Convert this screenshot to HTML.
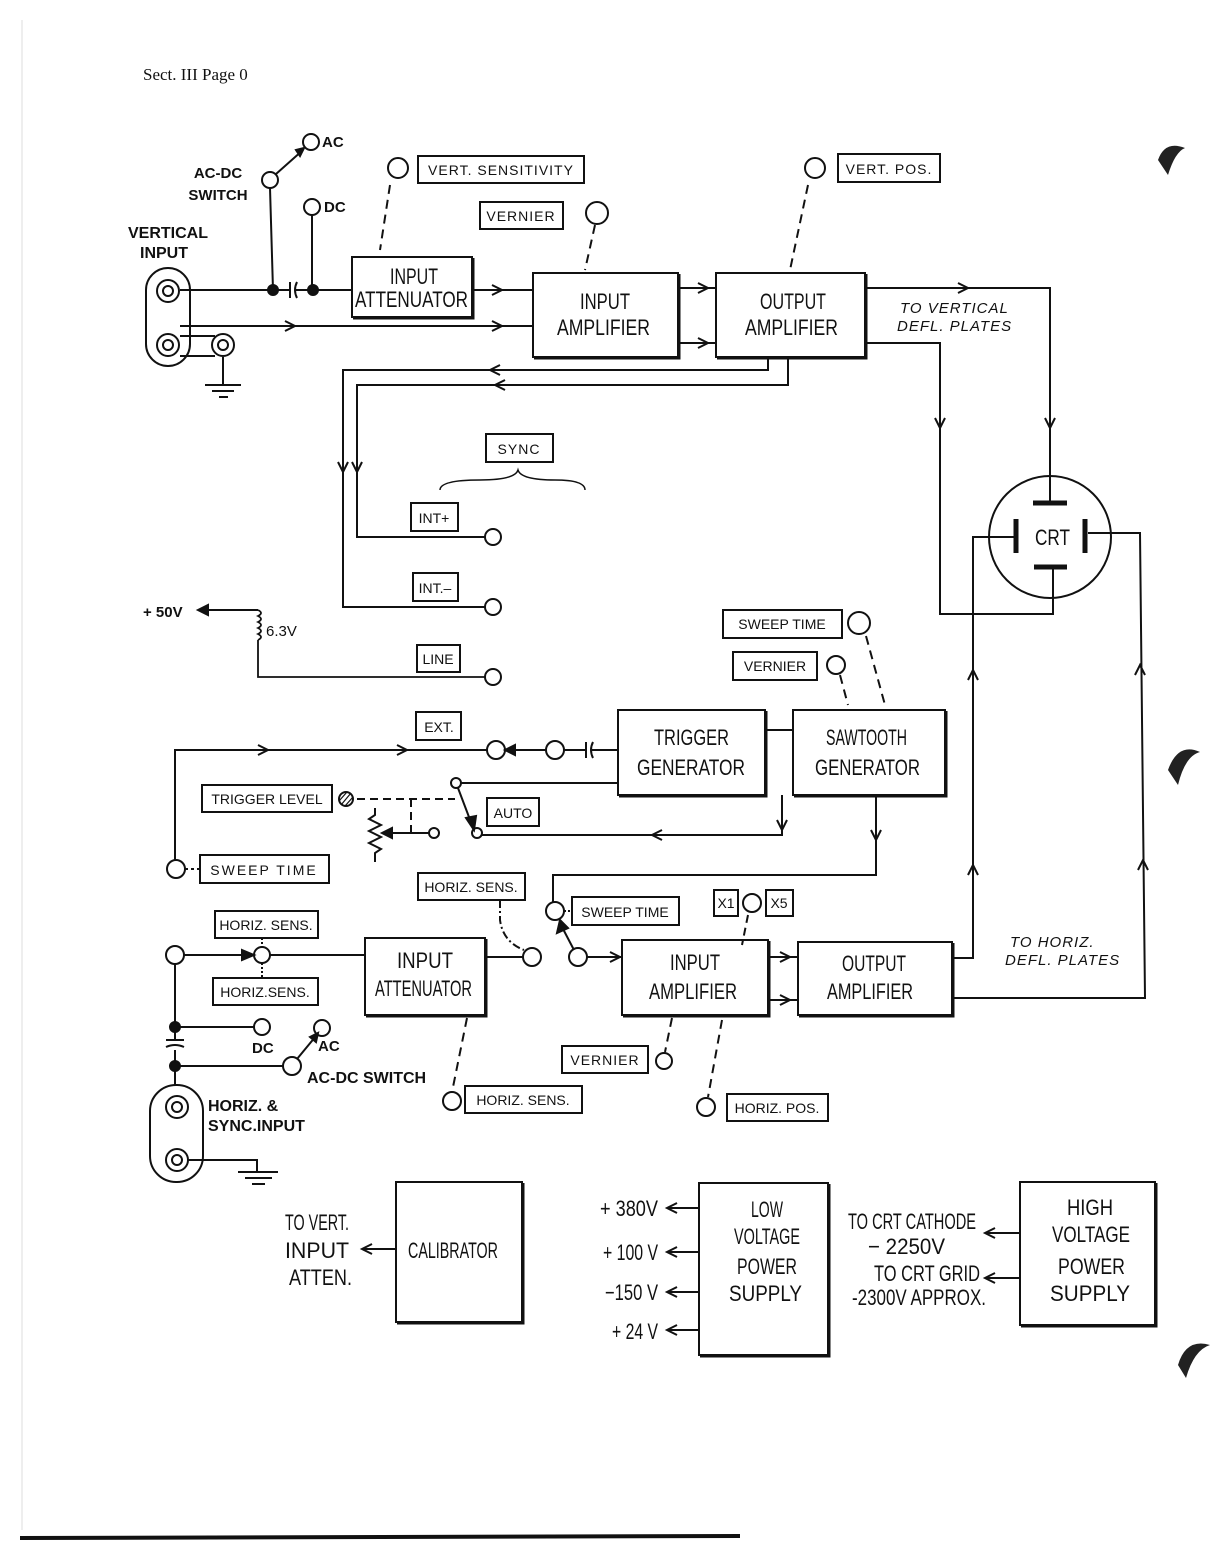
<!DOCTYPE html>
<html><head><meta charset="utf-8"><style>
html,body{margin:0;padding:0;background:#fff}
svg{display:block}
text{font-family:"Liberation Sans",sans-serif;fill:#111}
.b{font-size:22px}
.l{font-size:15px;font-weight:bold}
.s{font-size:14px;letter-spacing:1px}
.i{font-size:15px;font-style:italic;letter-spacing:1px}
</style></head><body>
<svg width="1212" height="1545" viewBox="0 0 1212 1545" xmlns="http://www.w3.org/2000/svg">
<g stroke="#111" stroke-width="2" fill="none">
<line x1="22" y1="20" x2="22" y2="1530" stroke="#ddd" stroke-width="1"/>
<path d="M20 1538 L740 1536" stroke-width="4"/>
<rect x="146" y="268" width="44" height="98" rx="22"/>
<circle cx="168" cy="291" r="11"/><circle cx="168" cy="291" r="5"/>
<circle cx="168" cy="345" r="11"/><circle cx="168" cy="345" r="5"/>
<circle cx="223" cy="345" r="11"/><circle cx="223" cy="345" r="5"/>
<path d="M180 336 H215 M180 356 H215"/>
<path d="M223 357 V385 M205 385 H241 M212 391 H234 M219 397 H228"/>
<circle cx="270" cy="180" r="8"/><circle cx="311" cy="142" r="8"/><circle cx="312" cy="207" r="8"/>
<path d="M276 174 L303 150"/><path d="M296 150 L304 148 L300 156 Z" fill="#111"/>
<path d="M270 188 L273 290 M312 215 V290"/>
<path d="M180 290 H290 M296 290 H352"/>
<path d="M290 282 V298 M297 282 Q293 290 297 298"/>
<circle cx="273" cy="290" r="5" fill="#111"/><circle cx="313" cy="290" r="5" fill="#111"/>
<path d="M180 326 H533"/>
<path d="M285 321 L295 326 L285 331 M492 321 L502 326 L492 331"/>
<rect x="352" y="257" width="120" height="60"/><path d="M473 258 V318 H353" stroke-width="3"/>
<path d="M472 290 H533 M492 285 L502 290 L492 295"/>
<circle cx="398" cy="168" r="10"/><rect x="418" y="156" width="166" height="27"/>
<path d="M390 185 L380 250" stroke-dasharray="9,6"/>
<rect x="480" y="202" width="83" height="27"/><circle cx="597" cy="213" r="11"/>
<path d="M595 225 L585 270" stroke-dasharray="9,6"/>
<rect x="533" y="273" width="145" height="84"/><path d="M679 274 V358 H534" stroke-width="3"/>
<path d="M678 288 H716 M678 343 H716 M698 283 L708 288 L698 293 M698 338 L708 343 L698 348"/>
<rect x="716" y="273" width="149" height="84"/><path d="M866 274 V358 H717" stroke-width="3"/>
<circle cx="815" cy="168" r="10"/><rect x="838" y="154" width="102" height="28"/>
<path d="M808 185 L790 270" stroke-dasharray="9,6"/>
<path d="M865 288 H1050 V503 M958 283 L968 288 L958 293 M1045 418 L1050 428 L1055 418"/>
<path d="M865 343 H940 V614 H1053 V568 M935 418 L940 428 L945 418"/>
<circle cx="1050" cy="537" r="61"/>
<path d="M1033 503 H1067 M1034 567 H1067 M1016 519 V553 M1085 519 V553" stroke-width="5"/>
<path d="M1014 537 H973 V958 H952 M968 680 L973 670 L978 680 M968 875 L973 865 L978 875"/>
<path d="M1088 533 H1140 L1145 998 H952 M1135 675 L1140 665 L1145 675 M1138 870 L1143 860 L1148 870"/>
<path d="M768 357 V370 H343 V607 H485 M788 357 V385 H357 V537 H485"/>
<path d="M500 365 L490 370 L500 375 M505 380 L495 385 L505 390 M338 462 L343 472 L348 462 M352 462 L357 472 L362 462"/>
<circle cx="493" cy="537" r="8"/><circle cx="493" cy="607" r="8"/><circle cx="493" cy="677" r="8"/>
<rect x="486" y="434" width="67" height="28"/>
<path d="M440 490 Q440 480 480 480 Q515 480 518 470 Q521 480 555 480 Q585 480 585 490" stroke-width="1.5"/>
<rect x="411" y="503" width="47" height="28"/><rect x="413" y="573" width="45" height="28"/><rect x="417" y="645" width="43" height="27"/>
<path d="M203 610 H258 M198 610 L208 605 L208 615 Z" fill="#111"/>
<path d="M258 610 q6 3 0 6 q6 3 0 6 q6 3 0 6 q6 3 0 6 q6 3 0 6 M258 640 V677 H485" stroke-width="1.8"/>
<rect x="723" y="610" width="119" height="28"/><circle cx="859" cy="623" r="11"/>
<path d="M866 636 L885 705" stroke-dasharray="9,6"/>
<rect x="733" y="652" width="84" height="28"/><circle cx="836" cy="665" r="9"/>
<path d="M840 675 L848 705" stroke-dasharray="9,6"/>
<rect x="618" y="710" width="147" height="85"/><path d="M766 711 V796 H619" stroke-width="3"/>
<rect x="793" y="710" width="152" height="85"/><path d="M946 711 V796 H794" stroke-width="3"/>
<path d="M765 730 H793"/>
<rect x="416" y="712" width="45" height="28"/>
<path d="M175 860 V750 H487 M258 745 L268 750 L258 755 M397 745 L407 750 L397 755"/>
<circle cx="496" cy="750" r="9"/><circle cx="555" cy="750" r="9"/>
<path d="M505 750 L515 745 L515 755 Z" fill="#111"/><path d="M515 750 H546 M564 750 H586 M586 742 V758 M593 742 Q589 750 593 758 M592 750 H618"/>
<circle cx="176" cy="869" r="9"/><path d="M185 869 H200" stroke-dasharray="3,3"/>
<rect x="200" y="855" width="129" height="28"/>
<rect x="202" y="785" width="130" height="27"/>
<circle cx="346" cy="799" r="7"/><path d="M341 805 L351 793 M339 801 L347 792 M345 806 L353 797" stroke-width="1.2"/>
<path d="M357 799 H455 M411 799 V832" stroke-dasharray="8,5"/>
<path d="M375 808 V815 L369 819 L381 825 L369 831 L381 837 L369 843 L381 849 L375 853 V862"/>
<path d="M429 833 H390 M382 833 L392 828 L392 838 Z" fill="#111"/><circle cx="434" cy="833" r="5"/>
<circle cx="456" cy="783" r="5"/><path d="M461 783 H618"/>
<path d="M458 788 L472 825 M466 818 L474 830 L476 816 Z" fill="#111"/>
<circle cx="477" cy="833" r="5"/>
<path d="M482 835 H782 V795 M777 820 L782 830 L787 820 M662 830 L652 835 L662 840"/>
<rect x="487" y="798" width="52" height="28"/>
<path d="M876 795 V875 H553 V902 M871 830 L876 840 L881 830"/>
<circle cx="555" cy="911" r="9"/><path d="M564 911 H572" stroke-dasharray="2,2"/>
<rect x="572" y="897" width="107" height="28"/>
<path d="M574 950 L562 927 M557 933 L560 920 L568 928 Z" fill="#111"/>
<circle cx="578" cy="957" r="9"/><path d="M587 957 H622 M610 952 L620 957 L610 962"/>
<rect x="714" y="890" width="24" height="26"/><circle cx="752" cy="903" r="9"/><rect x="766" y="890" width="27" height="26"/>
<path d="M748 915 L742 945" stroke-dasharray="8,5"/>
<rect x="622" y="940" width="146" height="75"/><path d="M769 941 V1016 H623" stroke-width="3"/>
<path d="M768 957 H798 M768 1000 H798 M780 952 L790 957 L780 962 M780 995 L790 1000 L780 1005"/>
<rect x="798" y="942" width="154" height="73"/><path d="M953 943 V1016 H799" stroke-width="3"/>
<rect x="562" y="1046" width="86" height="27"/><circle cx="664" cy="1061" r="8"/>
<path d="M672 1018 L665 1052" stroke-dasharray="9,6"/>
<rect x="727" y="1094" width="101" height="27"/><circle cx="706" cy="1107" r="9"/>
<path d="M722 1020 L708 1097" stroke-dasharray="9,6"/>
<circle cx="175" cy="955" r="9"/><path d="M184 955 H250"/><path d="M242 950 L254 955 L242 960 Z" fill="#111"/>
<circle cx="262" cy="955" r="8"/><path d="M270 955 H365"/>
<path d="M262 938 V947 M262 963 V978" stroke-dasharray="2,2"/>
<rect x="215" y="911" width="103" height="27"/><rect x="213" y="978" width="105" height="27"/>
<rect x="365" y="938" width="120" height="77"/><path d="M486 939 V1016 H366" stroke-width="3"/>
<path d="M485 957 H523"/><circle cx="532" cy="957" r="9"/>
<rect x="418" y="873" width="107" height="27"/>
<path d="M500 900 V920 Q503 942 524 950" stroke-dasharray="8,3,2,3"/>
<path d="M467 1018 L452 1092" stroke-dasharray="9,6"/>
<circle cx="452" cy="1101" r="9"/><rect x="465" y="1086" width="117" height="27"/>
<path d="M175 964 V1040 M175 1050 V1085"/>
<path d="M166 1040 H184 M166 1047 Q175 1043 184 1047"/>
<circle cx="175" cy="1027" r="5" fill="#111"/><circle cx="175" cy="1066" r="5" fill="#111"/>
<path d="M175 1027 H254"/><circle cx="262" cy="1027" r="8"/>
<path d="M175 1066 H283"/><circle cx="292" cy="1066" r="9"/><circle cx="322" cy="1028" r="8"/>
<path d="M297 1059 L316 1036"/><path d="M310 1037 L318 1033 L316 1042 Z" fill="#111"/>
<rect x="150" y="1085" width="53" height="97" rx="26"/>
<circle cx="177" cy="1107" r="11"/><circle cx="177" cy="1107" r="5"/>
<circle cx="177" cy="1160" r="11"/><circle cx="177" cy="1160" r="5"/>
<path d="M188 1160 H257 V1172 M238 1172 H278 M245 1178 H272 M252 1184 H265"/>
<rect x="396" y="1182" width="126" height="140"/><path d="M523 1183 V1323 H397" stroke-width="3"/>
<path d="M396 1249 H362 M372 1244 L362 1249 L372 1254"/>
<rect x="699" y="1183" width="129" height="172"/><path d="M829 1184 V1356 H700" stroke-width="3"/>
<path d="M699 1208 H667 M677 1203 L667 1208 L677 1213 M699 1252 H667 M677 1247 L667 1252 L677 1257 M699 1292 H667 M677 1287 L667 1292 L677 1297 M699 1330 H667 M677 1325 L667 1330 L677 1335"/>
<rect x="1020" y="1182" width="135" height="143"/><path d="M1156 1183 V1326 H1021" stroke-width="3"/>
<path d="M1020 1233 H985 M995 1228 L985 1233 L995 1238 M1020 1278 H985 M995 1273 L985 1278 L995 1283"/>
</g>
<path d="M1158 160 Q1165 140 1185 148 Q1175 152 1168 175 Z" fill="#222"/>
<path d="M1168 770 Q1178 742 1200 752 Q1185 756 1178 785 Z" fill="#222"/>
<path d="M1178 1365 Q1186 1338 1210 1345 Q1194 1350 1186 1378 Z" fill="#222"/>

<text x="143" y="80" style="font-family:'Liberation Serif',serif;font-size:17px">Sect. III  Page 0</text>
<text class="l" x="322" y="147">AC</text><text class="l" x="324" y="212">DC</text>
<text class="l" x="218" y="178" text-anchor="middle">AC-DC</text><text class="l" x="218" y="200" text-anchor="middle">SWITCH</text>
<text class="l" x="128" y="238" style="font-size:16px">VERTICAL</text><text class="l" x="140" y="258" style="font-size:16px">INPUT</text>
<g class="b" lengthAdjust="spacingAndGlyphs">
<text x="390" y="284" textLength="48" lengthAdjust="spacingAndGlyphs">INPUT</text>
<text x="355" y="307" textLength="113" lengthAdjust="spacingAndGlyphs">ATTENUATOR</text>
<text x="580" y="309" textLength="50" lengthAdjust="spacingAndGlyphs">INPUT</text>
<text x="557" y="335" textLength="93" lengthAdjust="spacingAndGlyphs">AMPLIFIER</text>
<text x="760" y="309" textLength="66" lengthAdjust="spacingAndGlyphs">OUTPUT</text>
<text x="745" y="335" textLength="93" lengthAdjust="spacingAndGlyphs">AMPLIFIER</text>
<text x="1035" y="545" textLength="35" lengthAdjust="spacingAndGlyphs">CRT</text>
<text x="654" y="745" textLength="75" lengthAdjust="spacingAndGlyphs">TRIGGER</text>
<text x="637" y="775" textLength="108" lengthAdjust="spacingAndGlyphs">GENERATOR</text>
<text x="826" y="745" textLength="81" lengthAdjust="spacingAndGlyphs">SAWTOOTH</text>
<text x="815" y="775" textLength="105" lengthAdjust="spacingAndGlyphs">GENERATOR</text>
<text x="670" y="970" textLength="50" lengthAdjust="spacingAndGlyphs">INPUT</text>
<text x="649" y="999" textLength="88" lengthAdjust="spacingAndGlyphs">AMPLIFIER</text>
<text x="842" y="971" textLength="64" lengthAdjust="spacingAndGlyphs">OUTPUT</text>
<text x="827" y="999" textLength="86" lengthAdjust="spacingAndGlyphs">AMPLIFIER</text>
<text x="397" y="968" textLength="56" lengthAdjust="spacingAndGlyphs">INPUT</text>
<text x="375" y="996" textLength="97" lengthAdjust="spacingAndGlyphs">ATTENUATOR</text>
<text x="408" y="1258" textLength="90" lengthAdjust="spacingAndGlyphs">CALIBRATOR</text>
<text x="751" y="1217" textLength="32" lengthAdjust="spacingAndGlyphs">LOW</text>
<text x="734" y="1244" textLength="66" lengthAdjust="spacingAndGlyphs">VOLTAGE</text>
<text x="737" y="1274" textLength="60" lengthAdjust="spacingAndGlyphs">POWER</text>
<text x="729" y="1301" textLength="73" lengthAdjust="spacingAndGlyphs">SUPPLY</text>
<text x="1067" y="1215" textLength="46" lengthAdjust="spacingAndGlyphs">HIGH</text>
<text x="1052" y="1242" textLength="78" lengthAdjust="spacingAndGlyphs">VOLTAGE</text>
<text x="1058" y="1274" textLength="67" lengthAdjust="spacingAndGlyphs">POWER</text>
<text x="1050" y="1301" textLength="80" lengthAdjust="spacingAndGlyphs">SUPPLY</text>
<text x="285" y="1230" textLength="64" lengthAdjust="spacingAndGlyphs">TO VERT.</text>
<text x="285" y="1258" textLength="64" lengthAdjust="spacingAndGlyphs">INPUT</text>
<text x="289" y="1285" textLength="63" lengthAdjust="spacingAndGlyphs">ATTEN.</text>
<text x="600" y="1216" textLength="58" lengthAdjust="spacingAndGlyphs">+ 380V</text>
<text x="603" y="1260" textLength="55" lengthAdjust="spacingAndGlyphs">+ 100 V</text>
<text x="605" y="1300" textLength="53" lengthAdjust="spacingAndGlyphs">−150 V</text>
<text x="612" y="1339" textLength="46" lengthAdjust="spacingAndGlyphs">+ 24 V</text>
<text x="848" y="1229" textLength="128" lengthAdjust="spacingAndGlyphs">TO CRT CATHODE</text>
<text x="868" y="1254" textLength="77" lengthAdjust="spacingAndGlyphs">− 2250V</text>
<text x="874" y="1281" textLength="106" lengthAdjust="spacingAndGlyphs">TO CRT GRID</text>
<text x="852" y="1305" textLength="134" lengthAdjust="spacingAndGlyphs">-2300V APPROX.</text>
</g>
<g class="s" text-anchor="middle">
<text x="501" y="175">VERT. SENSITIVITY</text><text x="521" y="221">VERNIER</text><text x="889" y="174">VERT. POS.</text>
<text x="519" y="454">SYNC</text><text x="434" y="523" style="letter-spacing:0">INT+</text><text x="435" y="593" style="letter-spacing:0">INT.–</text><text x="438" y="664" style="letter-spacing:0">LINE</text>
<text x="782" y="629" style="letter-spacing:0">SWEEP TIME</text><text x="775" y="671" style="letter-spacing:0">VERNIER</text>
<text x="439" y="732" style="letter-spacing:0">EXT.</text><text x="267" y="804" style="letter-spacing:0">TRIGGER LEVEL</text>
<text x="264" y="875" style="letter-spacing:2px">SWEEP TIME</text><text x="513" y="818" style="letter-spacing:0">AUTO</text>
<text x="471" y="892" style="letter-spacing:0">HORIZ. SENS.</text><text x="625" y="917" style="letter-spacing:0">SWEEP TIME</text>
<text x="726" y="908" style="letter-spacing:0">X1</text><text x="779" y="908" style="letter-spacing:0">X5</text>
<text x="266" y="930" style="letter-spacing:0">HORIZ. SENS.</text><text x="265" y="997" style="letter-spacing:0">HORIZ.SENS.</text>
<text x="605" y="1065">VERNIER</text><text x="777" y="1113" style="letter-spacing:0">HORIZ. POS.</text>
<text x="523" y="1105" style="letter-spacing:0">HORIZ. SENS.</text>
</g>
<text class="l" x="143" y="617">+ 50V</text><text class="l" x="266" y="636" style="font-weight:normal">6.3V</text>
<text class="i" x="900" y="313">TO VERTICAL</text><text class="i" x="897" y="331">DEFL. PLATES</text>
<text class="i" x="1010" y="947">TO HORIZ.</text><text class="i" x="1005" y="965">DEFL. PLATES</text>
<text class="l" x="252" y="1053">DC</text><text class="l" x="318" y="1051">AC</text>
<text class="l" x="307" y="1083" style="font-size:16px">AC-DC SWITCH</text>
<text class="l" x="208" y="1111" style="font-size:16px">HORIZ. &amp;</text><text class="l" x="208" y="1131" style="font-size:16px">SYNC.INPUT</text>
</svg>
</body></html>
